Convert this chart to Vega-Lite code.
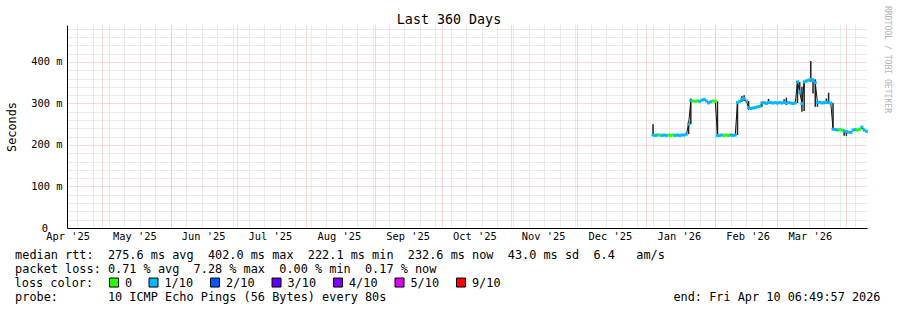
{
  "$schema": "https://vega.github.io/schema/vega-lite/v6.json",
  "width": 800,
  "height": 203,
  "autosize": {"type": "none"},
  "padding": {"left": 67, "top": 25, "right": 30, "bottom": 82},
  "background": "white",
  "config": {
    "view": {"stroke": null},
    "font": "DejaVu Sans Mono",
    "axis": {"labelFont": "DejaVu Sans Mono", "titleFont": "DejaVu Sans Mono", "titleFontWeight": "normal", "labelColor": "black", "titleColor": "black"}
  },
  "data": {"values": [
    {"t": "2026-01-04T00:00", "med": 224, "loss": "1/10", "lo": 222, "hi": 250},
    {"t": "2026-01-05T00:00", "med": 223, "loss": "1/10"},
    {"t": "2026-01-06T00:00", "med": 224, "loss": "1/10"},
    {"t": "2026-01-07T00:00", "med": 224, "loss": "0"},
    {"t": "2026-01-08T00:00", "med": 223, "loss": "1/10"},
    {"t": "2026-01-09T00:00", "med": 224, "loss": "1/10"},
    {"t": "2026-01-10T00:00", "med": 223, "loss": "1/10"},
    {"t": "2026-01-11T00:00", "med": 224, "loss": "0"},
    {"t": "2026-01-12T00:00", "med": 223, "loss": "0"},
    {"t": "2026-01-13T00:00", "med": 224, "loss": "0"},
    {"t": "2026-01-14T00:00", "med": 223, "loss": "1/10"},
    {"t": "2026-01-15T00:00", "med": 224, "loss": "1/10"},
    {"t": "2026-01-16T00:00", "med": 223, "loss": "1/10"},
    {"t": "2026-01-17T00:00", "med": 224, "loss": "1/10"},
    {"t": "2026-01-18T00:00", "med": 224, "loss": "1/10"},
    {"t": "2026-01-19T00:00", "med": 226, "loss": "1/10"},
    {"t": "2026-01-20T00:00", "med": 250, "loss": "1/10", "lo": 226, "hi": 256},
    {"t": "2026-01-21T00:00", "med": 307, "loss": "1/10", "lo": 250, "hi": 312},
    {"t": "2026-01-22T00:00", "med": 306, "loss": "0"},
    {"t": "2026-01-23T00:00", "med": 305, "loss": "0"},
    {"t": "2026-01-24T00:00", "med": 306, "loss": "0"},
    {"t": "2026-01-25T00:00", "med": 305, "loss": "1/10"},
    {"t": "2026-01-26T00:00", "med": 308, "loss": "1/10"},
    {"t": "2026-01-27T00:00", "med": 310, "loss": "1/10", "lo": 306, "hi": 312},
    {"t": "2026-01-28T00:00", "med": 306, "loss": "1/10"},
    {"t": "2026-01-29T00:00", "med": 302, "loss": "1/10", "lo": 298, "hi": 304},
    {"t": "2026-01-30T00:00", "med": 304, "loss": "1/10"},
    {"t": "2026-01-31T00:00", "med": 306, "loss": "0"},
    {"t": "2026-02-01T00:00", "med": 305, "loss": "0"},
    {"t": "2026-02-02T00:00", "med": 223, "loss": "1/10", "lo": 222, "hi": 305},
    {"t": "2026-02-03T00:00", "med": 223, "loss": "1/10"},
    {"t": "2026-02-04T00:00", "med": 224, "loss": "1/10"},
    {"t": "2026-02-05T00:00", "med": 223, "loss": "0"},
    {"t": "2026-02-06T00:00", "med": 224, "loss": "0"},
    {"t": "2026-02-07T00:00", "med": 223, "loss": "0"},
    {"t": "2026-02-08T00:00", "med": 224, "loss": "1/10"},
    {"t": "2026-02-09T00:00", "med": 223, "loss": "1/10"},
    {"t": "2026-02-10T00:00", "med": 224, "loss": "1/10"},
    {"t": "2026-02-11T00:00", "med": 302, "loss": "1/10", "lo": 224, "hi": 304},
    {"t": "2026-02-12T00:00", "med": 305, "loss": "1/10"},
    {"t": "2026-02-13T00:00", "med": 310, "loss": "1/10", "lo": 304, "hi": 318},
    {"t": "2026-02-14T00:00", "med": 312, "loss": "1/10", "lo": 306, "hi": 320},
    {"t": "2026-02-15T00:00", "med": 306, "loss": "1/10"},
    {"t": "2026-02-16T00:00", "med": 290, "loss": "1/10", "lo": 285, "hi": 306},
    {"t": "2026-02-17T00:00", "med": 288, "loss": "1/10"},
    {"t": "2026-02-18T00:00", "med": 289, "loss": "1/10"},
    {"t": "2026-02-19T00:00", "med": 290, "loss": "1/10"},
    {"t": "2026-02-20T00:00", "med": 292, "loss": "1/10"},
    {"t": "2026-02-21T00:00", "med": 293, "loss": "1/10"},
    {"t": "2026-02-22T00:00", "med": 301, "loss": "1/10", "lo": 292, "hi": 304},
    {"t": "2026-02-23T00:00", "med": 302, "loss": "1/10"},
    {"t": "2026-02-24T00:00", "med": 300, "loss": "1/10"},
    {"t": "2026-02-25T00:00", "med": 303, "loss": "1/10", "lo": 300, "hi": 311},
    {"t": "2026-02-26T00:00", "med": 302, "loss": "1/10"},
    {"t": "2026-02-27T00:00", "med": 301, "loss": "1/10"},
    {"t": "2026-02-28T00:00", "med": 302, "loss": "1/10"},
    {"t": "2026-03-01T00:00", "med": 301, "loss": "1/10"},
    {"t": "2026-03-02T00:00", "med": 302, "loss": "1/10"},
    {"t": "2026-03-03T00:00", "med": 301, "loss": "1/10"},
    {"t": "2026-03-04T00:00", "med": 303, "loss": "1/10", "lo": 300, "hi": 310},
    {"t": "2026-03-05T00:00", "med": 301, "loss": "1/10", "lo": 296, "hi": 314},
    {"t": "2026-03-06T00:00", "med": 302, "loss": "1/10"},
    {"t": "2026-03-07T00:00", "med": 301, "loss": "1/10"},
    {"t": "2026-03-08T00:00", "med": 300, "loss": "1/10"},
    {"t": "2026-03-09T00:00", "med": 301, "loss": "1/10"},
    {"t": "2026-03-10T00:00", "med": 352, "loss": "1/10", "lo": 301, "hi": 354},
    {"t": "2026-03-11T00:00", "med": 328, "loss": "1/10", "lo": 324, "hi": 352},
    {"t": "2026-03-12T00:00", "med": 300, "loss": "1/10", "lo": 280, "hi": 340},
    {"t": "2026-03-13T00:00", "med": 352, "loss": "1/10", "lo": 282, "hi": 354},
    {"t": "2026-03-14T00:00", "med": 354, "loss": "1/10"},
    {"t": "2026-03-15T00:00", "med": 356, "loss": "1/10"},
    {"t": "2026-03-16T00:00", "med": 358, "loss": "1/10", "lo": 352, "hi": 402},
    {"t": "2026-03-17T00:00", "med": 355, "loss": "1/10", "lo": 324, "hi": 360},
    {"t": "2026-03-18T00:00", "med": 350, "loss": "1/10", "lo": 292, "hi": 358},
    {"t": "2026-03-19T00:00", "med": 302, "loss": "1/10", "lo": 292, "hi": 304},
    {"t": "2026-03-20T00:00", "med": 303, "loss": "1/10"},
    {"t": "2026-03-21T00:00", "med": 301, "loss": "1/10"},
    {"t": "2026-03-22T00:00", "med": 302, "loss": "1/10"},
    {"t": "2026-03-23T00:00", "med": 303, "loss": "1/10", "lo": 300, "hi": 312},
    {"t": "2026-03-24T00:00", "med": 302, "loss": "1/10", "lo": 300, "hi": 326},
    {"t": "2026-03-25T00:00", "med": 301, "loss": "1/10"},
    {"t": "2026-03-26T00:00", "med": 238, "loss": "1/10", "lo": 236, "hi": 301},
    {"t": "2026-03-27T00:00", "med": 237, "loss": "1/10"},
    {"t": "2026-03-28T00:00", "med": 236, "loss": "1/10"},
    {"t": "2026-03-29T00:00", "med": 237, "loss": "0"},
    {"t": "2026-03-30T00:00", "med": 236, "loss": "0"},
    {"t": "2026-03-31T00:00", "med": 234, "loss": "1/10", "lo": 222, "hi": 236},
    {"t": "2026-04-01T00:00", "med": 232, "loss": "1/10", "lo": 222, "hi": 234},
    {"t": "2026-04-02T00:00", "med": 231, "loss": "1/10"},
    {"t": "2026-04-03T00:00", "med": 230, "loss": "1/10"},
    {"t": "2026-04-04T00:00", "med": 236, "loss": "1/10"},
    {"t": "2026-04-05T00:00", "med": 237, "loss": "1/10"},
    {"t": "2026-04-06T00:00", "med": 236, "loss": "0"},
    {"t": "2026-04-07T00:00", "med": 238, "loss": "0"},
    {"t": "2026-04-08T00:00", "med": 243, "loss": "1/10", "lo": 238, "hi": 245},
    {"t": "2026-04-09T00:00", "med": 236, "loss": "1/10"},
    {"t": "2026-04-10T00:00", "med": 233, "loss": "1/10"}
  ]},
  "resolve": {"axis": {"x": "independent", "y": "independent"}},
  "layer": [
    {
      "mark": {"type": "rule", "color": "#222222", "strokeWidth": 1.5},
      "encoding": {
        "x": {"field": "t", "type": "temporal",
          "scale": {"domain": [{"year": 2025, "month": 4, "date": 15, "hours": 6, "minutes": 49, "seconds": 57}, {"year": 2026, "month": 4, "date": 10, "hours": 6, "minutes": 49, "seconds": 57}]},
          "axis": {"orient": "bottom", "tickCount": {"interval": "week", "step": 1}, "grid": true, "gridColor": "#d6d6d6", "gridDash": [1, 1], "gridWidth": 1, "labels": false, "ticks": false, "domain": false,
            "title": "Last 360 Days", "titleX": 381.5, "titleY": -205, "titleAlign": "center", "titleBaseline": "alphabetic", "titleFontSize": 13.34}},
        "y": {"field": "lo", "type": "quantitative", "scale": {"domain": [0, 489], "nice": false},
          "axis": {"orient": "left", "values": [0, 20, 40, 60, 80, 100, 120, 140, 160, 180, 200, 220, 240, 260, 280, 300, 320, 340, 360, 380, 400, 420, 440, 460, 480],
            "grid": true, "gridColor": {"condition": {"test": "datum.value % 100 === 0", "value": "#f4b0b0"}, "value": "#d6d6d6"}, "gridDash": [1, 1], "gridWidth": 1,
            "labelExpr": "datum.value % 100 === 0 ? (datum.value === 0 ? '0' : datum.value + ' m') : ''",
            "labelOverlap": false, "labelFontSize": 10.38, "labelPadding": {"condition": {"test": "datum.value === 0", "value": 19.5}, "value": 5}, "labelBaseline": "middle", "ticks": false, "domain": true, "domainColor": "black", "domainWidth": 1,
            "title": "Seconds", "titleX": -56, "titleY": 101.5, "titleAngle": 270, "titleAlign": "center", "titleBaseline": "middle", "titleFontSize": 11.86}},
        "y2": {"field": "hi"}
      }
    },
    {
      "mark": {"type": "line", "color": "#111111", "strokeWidth": 1},
      "encoding": {
        "x": {"field": "t", "type": "temporal",
          "scale": {"domain": [{"year": 2025, "month": 4, "date": 15, "hours": 6, "minutes": 49, "seconds": 57}, {"year": 2026, "month": 4, "date": 10, "hours": 6, "minutes": 49, "seconds": 57}]},
          "axis": {"orient": "bottom",
            "values": [
              {"year": 2025, "month": 4, "date": 15, "hours": 14},
              {"year": 2025, "month": 5, "date": 15, "hours": 14},
              {"year": 2025, "month": 6, "date": 15, "hours": 14},
              {"year": 2025, "month": 7, "date": 15, "hours": 14},
              {"year": 2025, "month": 8, "date": 15, "hours": 14},
              {"year": 2025, "month": 9, "date": 15, "hours": 14},
              {"year": 2025, "month": 10, "date": 15, "hours": 14},
              {"year": 2025, "month": 11, "date": 15, "hours": 14},
              {"year": 2025, "month": 12, "date": 15, "hours": 14},
              {"year": 2026, "month": 1, "date": 15, "hours": 14},
              {"year": 2026, "month": 2, "date": 15, "hours": 14},
              {"year": 2026, "month": 3, "date": 15, "hours": 14}
            ],
            "format": "%b '%y", "labelFlush": false, "labelOverlap": false, "labelFontSize": 10.38, "labelPadding": 3, "labelAlign": "center", "labelBaseline": "top",
            "ticks": false, "grid": false, "domain": true, "domainColor": "black", "domainWidth": 1,
            "title": ["median rtt:\u00a0\u00a0275.6 ms avg\u00a0\u00a0402.0 ms max\u00a0\u00a0222.1 ms min\u00a0\u00a0232.6 ms now\u00a0\u00a043.0 ms sd\u00a0\u00a06.4\u00a0\u00a0\u00a0am/s", "packet loss: 0.71 % avg\u00a0\u00a07.28 % max\u00a0\u00a00.00 % min\u00a0\u00a00.17 % now"],
            "titleX": -52.4, "titleY": 30, "titleAlign": "left", "titleAnchor": "start", "titleBaseline": "alphabetic", "titleFontSize": 11.86, "titleLineHeight": 14}},
        "y": {"field": "med", "type": "quantitative", "scale": {"domain": [0, 489], "nice": false},
          "axis": {"orient": "right", "labels": false, "ticks": false, "domain": false, "grid": false,
            "title": "RRDTOOL / TOBI OETIKER", "titleAngle": 90, "titleX": 19, "titleY": 34, "titleAlign": "center", "titleBaseline": "middle", "titleFontSize": 8.1, "titleColor": "#b4b4b4"}}
      }
    },
    {
      "mark": {"type": "tick", "orient": "horizontal", "size": 3, "thickness": 3, "opacity": 1},
      "encoding": {
        "x": {"field": "t", "type": "temporal",
          "scale": {"domain": [{"year": 2025, "month": 4, "date": 15, "hours": 6, "minutes": 49, "seconds": 57}, {"year": 2026, "month": 4, "date": 10, "hours": 6, "minutes": 49, "seconds": 57}]},
          "axis": {"orient": "bottom", "tickCount": {"interval": "month", "step": 1}, "grid": true, "gridColor": "#f4b0b0", "gridDash": [1, 1], "gridWidth": 1, "labels": false, "ticks": false, "domain": false,
            "title": "probe:\u00a0\u00a0\u00a0\u00a0\u00a0\u00a0\u00a010 ICMP Echo Pings (56 Bytes) every 80s",
            "titleX": -52.4, "titleY": 72, "titleAlign": "left", "titleAnchor": "start", "titleBaseline": "alphabetic", "titleFontSize": 11.86}},
        "y": {"field": "med", "type": "quantitative", "scale": {"domain": [0, 489], "nice": false},
          "axis": {"orient": "left", "labels": false, "ticks": false, "domain": false, "grid": false,
            "title": "end: Fri Apr 10 06:49:57 2026", "titleAngle": 0, "titleX": 813, "titleY": 275, "titleAlign": "right", "titleBaseline": "alphabetic", "titleFontSize": 11.86}},
        "color": {"field": "loss", "type": "nominal",
          "scale": {"domain": ["0", "1/10", "2/10", "3/10", "4/10", "5/10", "9/10"], "range": ["#26ff00", "#00b8ff", "#0059ff", "#5e00ff", "#7e00ff", "#dd00ff", "#ff0000"]},
          "legend": {"orient": "none", "legendX": -52.4, "legendY": 251.5, "direction": "horizontal", "padding": 0,
            "title": "loss color:", "titleOrient": "left", "titleFont": "DejaVu Sans Mono", "titleFontSize": 11.86, "titleFontWeight": "normal", "titleColor": "black", "titlePadding": 14.5, "titleBaseline": "middle",
            "labelFont": "DejaVu Sans Mono", "labelFontSize": 11.86, "labelColor": "black", "labelOffset": 5, "columnPadding": 14.5,
            "symbolType": "square", "symbolSize": 81, "symbolStrokeWidth": 1, "symbolStrokeColor": "black", "symbolOpacity": 1,
            "encode": {"symbols": {"update": {"stroke": {"value": "black"}, "strokeWidth": {"value": 1}, "opacity": {"value": 1}, "fillOpacity": {"value": 1}}}}}}
      }
    }
  ]
}
